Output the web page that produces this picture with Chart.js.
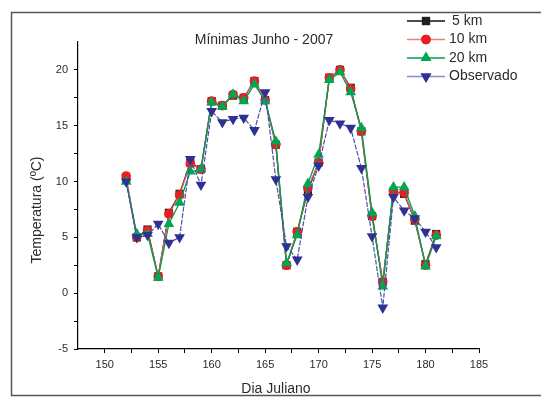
<!DOCTYPE html>
<html>
<head>
<meta charset="utf-8">
<script src="https://cdn.jsdelivr.net/npm/chart.js@4"></script>
<style>
  html, body { margin: 0; padding: 0; background: #fff; }
  #wrap { width: 541px; height: 398px; }
</style>
</head>
<body>
<div id="wrap"><canvas id="myChart" width="541" height="398"></canvas></div>
<script>
var dias = []
for (var i = 152; i <= 181; i++) {
    dias.push(i)
}
var km5 = [10.2, 5.0, 5.7, 1.5, 7.2, 8.9, 11.7, 11.1, 17.2, 16.8, 17.7, 17.5, 19.0, 17.3, 13.3,
    2.5, 5.5, 9.2, 11.7, 19.3, 20.0, 18.4, 14.5, 6.9, 1.0, 9.1, 8.9, 6.5, 2.6, 5.3]
var km10 = [10.5, 5.0, 5.6, 1.5, 7.1, 8.8, 11.6, 11.1, 17.2, 16.8, 17.8, 17.5, 19.0, 17.3, 13.3,
    2.5, 5.5, 9.4, 11.7, 19.3, 20.0, 18.3, 14.5, 6.9, 1.0, 9.1, 9.0, 6.6, 2.5, 5.2]
var km20 = [10.0, 5.3, 5.3, 1.4, 6.2, 8.1, 10.9, 11.1, 17.1, 16.7, 17.8, 17.2, 18.7, 17.2, 13.6,
    2.7, 5.2, 9.8, 12.4, 19.1, 19.8, 18.0, 14.8, 7.2, 0.6, 9.5, 9.5, 6.9, 2.4, 5.1]
var observado = [10.0, 5.0, 5.2, 6.2, 4.5, 5.0, 12.0, 9.7, 16.3, 15.3, 15.6, 15.7, 14.6, 18.0, 10.2,
    4.2, 3.0, 8.6, 11.4, 15.5, 15.2, 14.8, 11.2, 5.1, -1.3, 8.6, 7.4, 6.7, 5.5, 4.1]
var xTicks = [150, 155, 160, 165, 170, 175, 180, 185]
var yTicks = [-5, 0, 5, 10, 15, 20]

function pts(vals) {
    return vals.map((v, i) => ({ x: dias[i], y: v }))
}

var textColor = '#2b2b2b'
var fontFam = 'Liberation Sans, Arial, sans-serif'

var data = {
    datasets: [{
        label: '5 km',
        data: pts(km5),
        borderColor: '#111111',
        backgroundColor: '#231f20',
        pointStyle: 'rect',
        pointRadius: 5.8,
        pointBorderWidth: 0,
        borderWidth: 1.3,
        order: 4
    },
    {
        label: '10 km',
        data: pts(km10),
        borderColor: '#ee5a5a',
        backgroundColor: '#ec1c24',
        pointStyle: 'circle',
        pointRadius: 4.8,
        pointBorderWidth: 0,
        borderWidth: 1.3,
        order: 3
    },
    {
        label: '20 km',
        data: pts(km20),
        borderColor: '#00a04a',
        backgroundColor: '#00a651',
        pointStyle: 'triangle',
        pointRadius: 6.2,
        pointBorderWidth: 0,
        borderWidth: 1.3,
        order: 2
    },
    {
        label: 'Observado',
        data: pts(observado),
        borderColor: '#4a4fb0',
        backgroundColor: '#2e3192',
        pointStyle: 'triangle',
        rotation: 180,
        pointRadius: 6.2,
        pointBorderWidth: 0,
        borderWidth: 1.2,
        borderDash: [5, 1.5],
        order: 1
    }
    ]
};

// frame, titles and legend
var decor = {
    id: 'decor',
    afterDraw: function (chart) {
        var ctx = chart.ctx
        ctx.save()
        ctx.strokeStyle = '#555'
        ctx.lineWidth = 1.5
        ctx.strokeRect(11.5, 12.5, 560, 383)

        ctx.fillStyle = textColor
        ctx.font = '14px ' + fontFam
        ctx.textAlign = 'center'
        ctx.textBaseline = 'middle'
        ctx.fillText('Mínimas Junho - 2007', 264, 40)
        ctx.fillText('Dia Juliano', 276, 389)

        ctx.save()
        ctx.translate(37, 210)
        ctx.rotate(-Math.PI / 2)
        ctx.fillText('Temperatura (ºC)', 0, 0)
        ctx.restore()

        // legend
        var rows = [21, 39.5, 58, 76.5]
        var legendLine = ['#111111', '#f07c7c', '#00a04a', '#8a8ccc']
        ctx.textAlign = 'left'
        chart.data.datasets.forEach((ds, i) => {
            var y = rows[i]
            ctx.beginPath()
            ctx.strokeStyle = legendLine[i]
            ctx.lineWidth = 1.4
            ctx.moveTo(407, y)
            ctx.lineTo(445, y)
            ctx.stroke()
            ctx.fillStyle = ds.backgroundColor
            Chart.helpers.drawPoint(ctx, {
                pointStyle: ds.pointStyle,
                radius: ds.pointRadius,
                rotation: ds.rotation || 0,
                borderWidth: 0
            }, 426, y)
            ctx.fill()
            ctx.fillStyle = textColor
            ctx.fillText(ds.label, i == 0 ? 452 : 449, y)
        })
        ctx.restore()
    }
}

var options = {
    responsive: false,
    animation: false,
    layout: {
        padding: { left: 0, top: 42, right: 62, bottom: 0 }
    },
    scales: {
        x: {
            type: 'linear',
            min: 147.5,
            max: 185,
            afterFit: function (s) { s.height = 49 },
            afterBuildTicks: function (s) {
                var t = []
                for (var v = 150; v <= 185; v += 2.5) t.push({ value: v })
                s.ticks = t
            },
            grid: {
                drawOnChartArea: false,
                tickLength: 4,
                tickColor: '#000',
                tickWidth: 1
            },
            border: { display: true, color: '#000', width: 1.2 },
            ticks: {
                padding: 5,
                color: textColor,
                font: { size: 11, family: fontFam },
                maxRotation: 0,
                autoSkip: false,
                callback: function (value) {
                    return xTicks.includes(value) ? String(value) : ''
                }
            }
        },
        y: {
            min: -5,
            max: 22.5,
            afterFit: function (s) { s.width = 78 },
            afterBuildTicks: function (s) {
                var t = []
                for (var v = -5; v <= 20; v += 2.5) t.push({ value: v })
                s.ticks = t
            },
            grid: {
                drawOnChartArea: false,
                tickLength: 4,
                tickColor: '#000',
                tickWidth: 1
            },
            border: { display: true, color: '#000', width: 1.2 },
            ticks: {
                padding: 6,
                color: textColor,
                font: { size: 11, family: fontFam },
                autoSkip: false,
                callback: function (value) {
                    return yTicks.includes(value) ? String(value) : ''
                }
            }
        }
    },
    plugins: {
        legend: { display: false },
        title: { display: false },
        tooltip: { enabled: false }
    }
}

var ctx = document.getElementById('myChart').getContext('2d');

var myChart = new Chart(ctx, {
    type: 'line',
    data: data,
    options: options,
    plugins: [decor]
});
</script>
</body>
</html>
